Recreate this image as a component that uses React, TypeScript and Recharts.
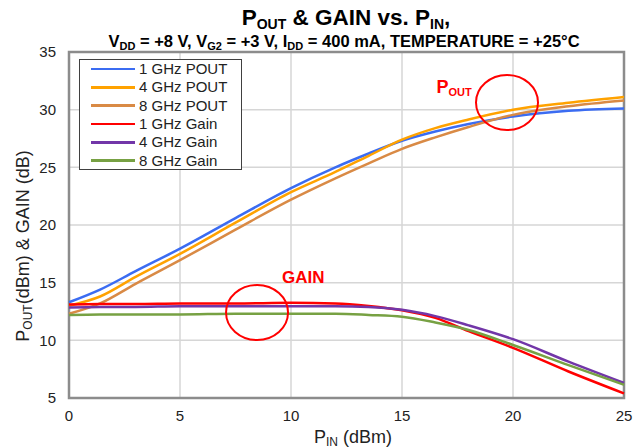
import {
  LineChart,
  Line,
  XAxis,
  YAxis,
  CartesianGrid,
  ReferenceArea,
  ReferenceDot,
} from "recharts";

// input power sweep (dBm)
const pin = [0, 1.4, 3, 5, 7.5, 10, 12, 13.5, 15, 16.5, 18, 20, 22.5, 25];

const pout1 = [13.3, 14.4, 16.0, 17.95, 20.6, 23.2, 25.0, 26.2, 27.3, 28.1, 28.75, 29.4, 29.9, 30.1];
const pout4 = [13.0, 13.8, 15.5, 17.5, 20.2, 22.85, 24.6, 26.0, 27.4, 28.4, 29.15, 30.0, 30.6, 31.1];
const pout8 = [12.3, 13.2, 14.9, 16.95, 19.6, 22.2, 24.05, 25.35, 26.6, 27.6, 28.5, 29.55, 30.3, 30.8];
const gain1 = [13.1, 13.15, 13.15, 13.2, 13.2, 13.25, 13.2, 12.98, 12.6, 11.95, 10.8, 9.35, 7.3, 5.4];
const gain4 = [12.85, 12.9, 12.9, 12.95, 12.95, 12.95, 12.95, 12.9, 12.65, 12.1, 11.3, 10.1, 8.15, 6.3];
const gain8 = [12.2, 12.25, 12.25, 12.25, 12.3, 12.3, 12.3, 12.2, 12.05, 11.55, 10.9, 9.6, 7.85, 6.15];

const xTicks = [0, 5, 10, 15, 20, 25];
const yTicks = [5, 10, 15, 20, 25, 30, 35];

const seriesKeys = ["pout1", "pout4", "pout8", "gain1", "gain4", "gain8"];
const seriesNames = ["1 GHz POUT", "4 GHz POUT", "8 GHz POUT", "1 GHz Gain", "4 GHz Gain", "8 GHz Gain"];
const seriesColors = ["#3b6cf2", "#ffa200", "#d98a45", "#ff0000", "#7236a8", "#77a143"];

const data = pin.map((x, i) => ({
  pin: x,
  pout1: pout1[i],
  pout4: pout4[i],
  pout8: pout8[i],
  gain1: gain1[i],
  gain4: gain4[i],
  gain8: gain8[i],
}));

const FONT = '"Liberation Sans", Arial, sans-serif';

function Ellipse(props: any) {
  const { cx, cy } = props;
  return <ellipse cx={cx} cy={cy} rx={31} ry={27.5} fill="none" stroke="#ff0000" strokeWidth={2} />;
}

function GainText(props: any) {
  return (
    <text x={props.cx} y={props.cy} fill="#ff0000" fontSize={17} fontWeight="bold" fontFamily={FONT}>
      GAIN
    </text>
  );
}

function PoutText(props: any) {
  return (
    <text x={props.cx} y={props.cy} fill="#ff0000" fontSize={18} fontWeight="bold" fontFamily={FONT}>
      P
      <tspan fontSize={11} dy={3}>
        OUT
      </tspan>
    </text>
  );
}

export default function App() {
  return (
    <div style={{ position: "relative", width: 635, height: 448, fontFamily: FONT, background: "#fff" }}>
      <style>{"body{margin:0}"}</style>
      <LineChart width={635} height={448} data={data} margin={{ top: 52, right: 11, bottom: 0, left: 0 }}>
        <CartesianGrid stroke="#d6d6d6" strokeWidth={1.5} />
        <XAxis
          dataKey="pin"
          type="number"
          domain={[0, 25]}
          ticks={xTicks}
          height={50}
          axisLine={false}
          tickLine={false}
          tickSize={8}
          tickMargin={4}
          tick={{ fill: "#222", fontSize: 15, fontFamily: FONT }}
        />
        <YAxis
          type="number"
          domain={[5, 35]}
          ticks={yTicks}
          width={69}
          axisLine={false}
          tickLine={false}
          tickSize={8}
          tickMargin={5}
          tick={{ fill: "#222", fontSize: 15, fontFamily: FONT }}
        />
        <ReferenceArea x1={0} x2={25} y1={5} y2={35} fill="none" stroke="#8c8c8c" strokeWidth={2.5} ifOverflow="visible" />
        {seriesKeys.map((k, i) => (
          <Line
            key={k}
            dataKey={k}
            name={seriesNames[i]}
            type="monotone"
            stroke={seriesColors[i]}
            strokeWidth={2.5}
            dot={false}
            isAnimationActive={false}
          />
        ))}
        <ReferenceDot x={8.47} y={12.41} shape={Ellipse} />
        <ReferenceDot x={19.73} y={30.62} shape={Ellipse} />
        <ReferenceDot x={9.6} y={14.97} shape={GainText} />
        <ReferenceDot x={16.55} y={31.42} shape={PoutText} />
      </LineChart>

      <svg width={635} height={448} style={{ position: "absolute", left: 0, top: 0, pointerEvents: "none" }}>
        <text x={346} y={25} textAnchor="middle" fontSize={22.5} fontWeight="bold" fontFamily={FONT} fill="#000">
          P
          <tspan fontSize={14} dy={4}>OUT</tspan>
          <tspan dy={-4}> &amp; GAIN vs. P</tspan>
          <tspan fontSize={14} dy={4}>IN</tspan>
          <tspan dy={-4}>,</tspan>
        </text>
        <text x={344} y={47} textAnchor="middle" fontSize={16.5} fontWeight="bold" fontFamily={FONT} fill="#000">
          V
          <tspan fontSize={11} dy={3}>DD</tspan>
          <tspan dy={-3}> = +8 V, V</tspan>
          <tspan fontSize={11} dy={3}>G2</tspan>
          <tspan dy={-3}> = +3 V, I</tspan>
          <tspan fontSize={11} dy={3}>DD</tspan>
          <tspan dy={-3}> = 400 mA, TEMPERATURE = +25°C</tspan>
        </text>
        <text
          x={0}
          y={0}
          transform="translate(29,246) rotate(-90)"
          textAnchor="middle"
          fontSize={18}
          fontFamily={FONT}
          fill="#222"
        >
          P
          <tspan fontSize={12} dy={3}>OUT</tspan>
          <tspan dy={-3}>(dBm) &amp; GAIN (dB)</tspan>
        </text>
        <text x={353} y={443} textAnchor="middle" fontSize={18} fontFamily={FONT} fill="#222">
          P
          <tspan fontSize={12} dy={3}>IN</tspan>
          <tspan dy={-3}> (dBm)</tspan>
        </text>
      </svg>

      <div
        style={{
          position: "absolute",
          left: 79,
          top: 59,
          width: 161,
          height: 109,
          border: "1px solid #404040",
          background: "#fff",
          boxSizing: "content-box",
        }}
      >
        {seriesNames.map((name, i) => (
          <div key={name} style={{ display: "flex", alignItems: "center", height: 18.3 }}>
            <div style={{ marginLeft: 11, width: 44, height: 2.5, background: seriesColors[i] }} />
            <span style={{ marginLeft: 4, fontSize: 15, color: "#222", lineHeight: "18px" }}>{name}</span>
          </div>
        ))}
      </div>
    </div>
  );
}
